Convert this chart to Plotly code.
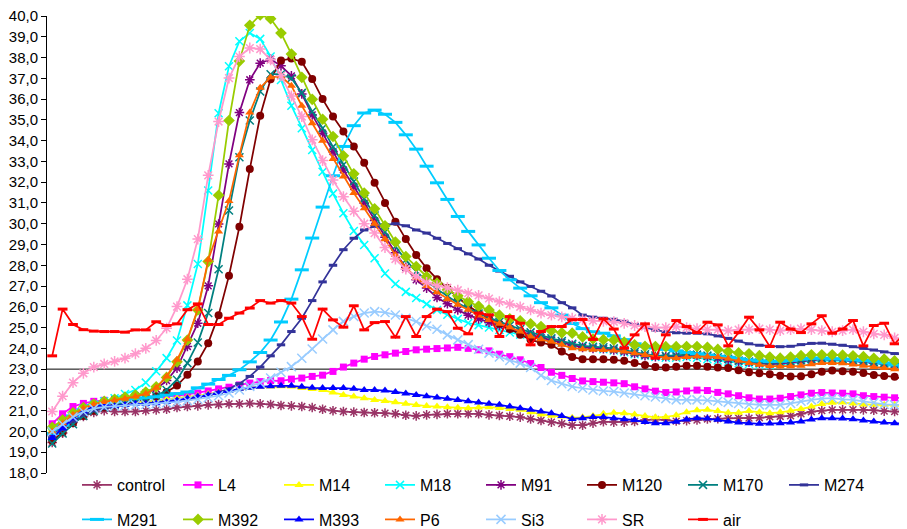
import plotly.graph_objects as go

# ---------------- data ----------------
samples = list(range(1, 84))

control = [19.47, 19.92, 20.43, 20.72, 20.91, 21.00, 20.96, 20.96, 20.96, 21.00,
           21.04, 21.07, 21.15, 21.20, 21.23, 21.28, 21.30, 21.33, 21.33, 21.35,
           21.33, 21.30, 21.25, 21.23, 21.20, 21.15, 21.07, 21.00, 20.96, 20.93,
           20.91, 20.90, 20.88, 20.85, 20.78, 20.75, 20.80, 20.82, 20.85, 20.85,
           20.85, 20.85, 20.80, 20.77, 20.73, 20.69, 20.60, 20.53, 20.45, 20.38,
           20.30, 20.30, 20.40, 20.47, 20.45, 20.45, 20.48, 20.55, 20.58, 20.55,
           20.50, 20.52, 20.55, 20.60, 20.62, 20.63, 20.64, 20.64, 20.66, 20.70,
           20.72, 20.75, 20.85, 20.95, 21.00, 21.04, 21.04, 21.05, 21.04, 21.02,
           20.98, 20.96, 20.95]

L4 = [20.37, 20.85, 21.20, 21.35, 21.45, 21.50, 21.55, 21.55, 21.60, 21.62,
      21.65, 21.68, 21.72, 21.78, 21.85, 21.95, 22.05, 22.13, 22.24, 22.33,
      22.40, 22.45, 22.44, 22.52, 22.57, 22.65, 22.71, 22.89, 23.10, 23.29,
      23.48, 23.61, 23.69, 23.77, 23.85, 23.93, 23.96, 23.99, 24.02, 24.05,
      24.00, 23.93, 23.88, 23.72, 23.60, 23.45, 23.27, 23.08, 22.85, 22.70,
      22.55, 22.43, 22.40, 22.37, 22.34, 22.30, 22.15, 22.05, 21.94, 21.87,
      21.90, 21.95, 21.99, 21.97, 21.88, 21.81, 21.72, 21.62, 21.56, 21.56,
      21.60, 21.68, 21.76, 21.84, 21.87, 21.85, 21.84, 21.81, 21.72, 21.68,
      21.65, 21.62, 21.60]

M14 = [20.10, 20.50, 20.85, 21.10, 21.25, 21.33, 21.38, 21.40, 21.42, 21.45,
       21.50, 21.55, 21.60, 21.65, 21.72, 21.80, 21.88, 21.95, 22.05, 22.10,
       22.15, 22.16, 22.18, 22.16, 22.09, 22.04, 22.00, 21.87, 21.76, 21.68,
       21.60, 21.52, 21.47, 21.40, 21.33, 21.27, 21.22, 21.20, 21.17, 21.14,
       21.12, 21.15, 21.17, 21.13, 21.08, 21.04, 20.93, 20.82, 20.76, 20.72,
       20.66, 20.68, 20.75, 20.85, 20.90, 20.88, 20.82, 20.75, 20.68, 20.70,
       20.78, 20.93, 21.02, 21.04, 20.98, 20.90, 20.90, 20.98, 20.93, 20.88,
       20.92, 21.00, 21.08, 21.20, 21.32, 21.38, 21.39, 21.35, 21.30, 21.28,
       21.28, 21.28, 21.28]

M18 = [19.95, 20.35, 20.80, 21.10, 21.30, 21.45, 21.60, 21.80, 22.00, 22.35,
       22.90, 23.53, 24.38, 26.07, 28.06, 31.60, 35.32, 37.58, 38.78, 39.18,
       38.90, 38.05, 36.92, 35.68, 34.60, 33.55, 32.50, 31.45, 30.50, 29.65,
       28.98, 28.34, 27.60, 27.10, 26.72, 26.42, 26.13, 25.85, 25.62, 25.42,
       25.22, 25.12, 25.00, 24.88, 24.76, 24.66, 24.57, 24.48, 24.38, 24.28,
       24.18, 24.10, 24.02, 23.96, 23.90, 23.82, 23.72, 23.65, 23.58, 23.55,
       23.55, 23.58, 23.55, 23.48, 23.42, 23.35, 23.28, 23.25, 23.22, 23.20,
       23.22, 23.28, 23.35, 23.40, 23.42, 23.42, 23.40, 23.38, 23.32, 23.28,
       23.25, 23.22, 23.20]

M91 = [19.80, 20.30, 20.75, 21.05, 21.25, 21.38, 21.50, 21.60, 21.70, 21.85,
       22.05, 22.45, 23.05, 24.09, 25.21, 27.01, 29.99, 32.88, 35.35, 36.93,
       37.73, 37.92, 37.60, 37.12, 36.25, 35.24, 34.36, 33.47, 32.59, 31.79,
       30.99, 30.15, 29.35, 28.60, 27.90, 27.30, 26.90, 26.45, 26.15, 25.85,
       25.60, 25.42, 25.25, 25.10, 24.95, 24.82, 24.66, 24.52, 24.40, 24.28,
       24.15, 24.05, 24.00, 23.98, 23.92, 23.85, 23.75, 23.65, 23.60, 23.60,
       23.62, 23.66, 23.66, 23.60, 23.52, 23.45, 23.38, 23.33, 23.28, 23.25,
       23.27, 23.32, 23.40, 23.45, 23.48, 23.46, 23.44, 23.40, 23.35, 23.30,
       23.25, 23.22, 23.20]

M120 = [19.55, 19.95, 20.40, 20.75, 21.00, 21.15, 21.25, 21.35, 21.45, 21.55,
        21.70, 21.90, 22.21, 22.73, 23.37, 24.25, 25.60, 27.50, 29.85, 32.63,
        35.20, 36.96, 37.86, 37.95, 37.80, 36.97, 36.00, 35.16, 34.44, 33.72,
        32.93, 31.97, 31.00, 30.10, 29.26, 28.50, 27.86, 27.33, 26.90, 26.45,
        26.05, 25.72, 25.45, 25.18, 24.93, 24.65, 24.41, 24.28, 24.17, 23.85,
        23.58, 23.48, 23.48, 23.47, 23.45, 23.40, 23.30, 23.20, 23.10, 23.08,
        23.12, 23.16, 23.16, 23.12, 23.08, 23.05, 22.95, 22.85, 22.80, 22.75,
        22.68, 22.65, 22.66, 22.75, 22.88, 22.93, 22.90, 22.88, 22.82, 22.72,
        22.67, 22.63, 22.52]

M170 = [19.42, 19.90, 20.35, 20.75, 21.00, 21.15, 21.28, 21.38, 21.48, 21.58,
        21.70, 22.00, 22.49, 23.29, 24.28, 25.70, 27.81, 30.64, 33.20, 34.97,
        36.37, 37.20, 37.20, 37.00, 36.30, 35.40, 34.60, 33.70, 32.84, 32.03,
        31.20, 30.40, 29.60, 28.90, 28.25, 27.70, 27.25, 26.85, 26.50, 26.18,
        25.92, 25.68, 25.48, 25.28, 25.10, 24.93, 24.77, 24.62, 24.48, 24.35,
        24.22, 24.12, 24.08, 24.05, 24.00, 23.92, 23.82, 23.72, 23.66, 23.64,
        23.66, 23.70, 23.70, 23.65, 23.57, 23.50, 23.42, 23.37, 23.32, 23.30,
        23.32, 23.37, 23.45, 23.50, 23.52, 23.50, 23.48, 23.45, 23.40, 23.35,
        23.30, 23.27, 23.25]

M274 = [19.70, 20.10, 20.50, 20.80, 21.00, 21.10, 21.18, 21.25, 21.30, 21.35,
        21.40, 21.45, 21.50, 21.57, 21.65, 21.75, 21.88, 22.05, 22.30, 22.65,
        23.10, 23.64, 24.17, 24.81, 25.45, 26.30, 27.20, 28.00, 28.75, 29.30,
        29.70, 29.87, 29.95, 30.00, 29.90, 29.70, 29.55, 29.30, 29.05, 28.80,
        28.55, 28.30, 28.00, 27.72, 27.47, 27.20, 26.98, 26.75, 26.52, 26.20,
        25.95, 25.60, 25.50, 25.45, 25.40, 25.30, 25.15, 25.00, 24.88, 24.80,
        24.75, 24.73, 24.73, 24.70, 24.60, 24.48, 24.35, 24.22, 24.15, 24.10,
        24.08, 24.10, 24.18, 24.24, 24.25, 24.20, 24.15, 24.08, 24.00, 23.92,
        23.83, 23.75, 23.68]

M291 = [19.90, 20.30, 20.75, 21.05, 21.25, 21.38, 21.45, 21.52, 21.58, 21.62,
        21.67, 21.75, 21.82, 21.90, 22.10, 22.28, 22.50, 22.70, 22.97, 23.35,
        23.80, 24.40, 25.27, 26.37, 27.78, 29.31, 30.80, 32.31, 33.72, 34.72,
        35.33, 35.47, 35.27, 34.88, 34.28, 33.59, 32.77, 31.97, 31.17, 30.35,
        29.63, 28.98, 28.34, 27.75, 27.30, 26.90, 26.53, 26.20, 25.95, 25.60,
        25.20, 24.95, 24.80, 24.73, 24.60, 24.42, 24.22, 24.10, 24.02, 23.95,
        23.88, 23.80, 23.74, 23.68, 23.62, 23.57, 23.50, 23.44, 23.40, 23.37,
        23.38, 23.42, 23.48, 23.52, 23.53, 23.50, 23.48, 23.45, 23.42, 23.38,
        23.30, 23.20, 23.13]

M392 = [20.20, 20.55, 20.90, 21.15, 21.32, 21.45, 21.55, 21.65, 21.75, 21.90,
        22.15, 22.60, 23.35, 24.40, 25.85, 28.18, 31.37, 34.97, 37.83, 39.55,
        40.05, 39.87, 39.18, 38.17, 37.05, 35.99, 35.03, 34.20, 33.27, 32.40,
        31.48, 30.72, 29.90, 29.12, 28.42, 27.94, 27.46, 27.14, 26.82, 26.53,
        26.25, 26.03, 25.85, 25.60, 25.42, 25.33, 25.18, 25.05, 24.85, 24.75,
        24.73, 24.55, 24.45, 24.42, 24.40, 24.30, 24.17, 24.10, 24.09, 24.08,
        24.08, 24.09, 24.09, 24.05, 23.95, 23.85, 23.78, 23.74, 23.65, 23.58,
        23.53, 23.58, 23.65, 23.69, 23.69, 23.69, 23.67, 23.64, 23.60, 23.52,
        23.48, 23.40, 23.30]

M393 = [19.68, 20.16, 20.64, 20.96, 21.20, 21.28, 21.23, 21.28, 21.33, 21.33,
        21.36, 21.42, 21.50, 21.60, 21.68, 21.75, 21.85, 21.95, 22.05, 22.10,
        22.15, 22.18, 22.20, 22.20, 22.15, 22.10, 22.09, 22.09, 22.09, 22.05,
        22.00, 22.00, 21.97, 21.90, 21.83, 21.76, 21.70, 21.64, 21.58, 21.52,
        21.45, 21.39, 21.33, 21.28, 21.20, 21.12, 21.04, 20.96, 20.88, 20.75,
        20.60, 20.64, 20.69, 20.69, 20.64, 20.59, 20.55, 20.45, 20.40, 20.40,
        20.47, 20.58, 20.64, 20.62, 20.56, 20.48, 20.43, 20.40, 20.37, 20.38,
        20.40, 20.43, 20.48, 20.58, 20.64, 20.64, 20.62, 20.59, 20.53, 20.48,
        20.43, 20.40, 20.38]

P6 = [20.00, 20.40, 20.80, 21.10, 21.30, 21.42, 21.50, 21.58, 21.68, 21.82,
      22.10, 22.65, 23.45, 24.44, 25.89, 28.26, 29.63, 31.10, 33.30, 35.35,
      36.55, 37.05, 37.10, 36.64, 35.68, 34.84, 34.00, 33.12, 32.27, 31.48,
      30.75, 30.00, 29.25, 28.50, 27.90, 27.40, 27.00, 26.70, 26.36, 26.10,
      25.86, 25.58, 25.37, 25.18, 25.02, 24.81, 24.57, 24.44, 24.33, 24.17,
      24.01, 23.96, 23.93, 23.92, 23.90, 23.85, 23.77, 23.68, 23.61, 23.55,
      23.53, 23.58, 23.61, 23.60, 23.58, 23.50, 23.40, 23.30, 23.21, 23.15,
      23.13, 23.14, 23.16, 23.24, 23.29, 23.29, 23.28, 23.22, 23.16, 23.10,
      23.05, 23.00, 22.97]

Si3 = [20.00, 20.35, 20.70, 20.95, 21.10, 21.18, 21.22, 21.25, 21.28, 21.30,
       21.33, 21.38, 21.42, 21.48, 21.55, 21.62, 21.72, 21.85, 22.00, 22.17,
       22.33, 22.57, 22.85, 23.12, 23.52, 23.97, 24.45, 24.89, 25.30, 25.53,
       25.70, 25.77, 25.73, 25.61, 25.45, 25.29, 25.08, 24.92, 24.65, 24.41,
       24.18, 23.96, 23.77, 23.58, 23.42, 23.29, 23.08, 22.70, 22.45, 22.30,
       22.16, 22.08, 22.00, 21.95, 21.92, 21.85, 21.80, 21.72, 21.66, 21.58,
       21.52, 21.52, 21.52, 21.50, 21.45, 21.40, 21.35, 21.30, 21.28, 21.28,
       21.28, 21.35, 21.45, 21.52, 21.58, 21.60, 21.55, 21.52, 21.45, 21.38,
       21.30, 21.28, 21.28]

SR = [20.96, 21.70, 22.35, 22.80, 23.10, 23.25, 23.37, 23.53, 23.74, 24.00,
      24.38, 24.97, 26.01, 27.33, 29.26, 32.33, 34.92, 37.01, 38.05, 38.46,
      38.41, 37.89, 37.12, 36.15, 35.16, 34.04, 33.04, 32.10, 31.30, 30.60,
      30.00, 29.55, 28.85, 28.30, 27.81, 27.46, 27.17, 27.01, 26.92, 26.80,
      26.66, 26.55, 26.40, 26.25, 26.13, 26.00, 25.85, 25.70, 25.60, 25.52,
      25.45, 25.38, 25.33, 25.30, 25.28, 25.20, 25.10, 25.05, 25.00, 25.00,
      25.05, 25.00, 24.95, 24.90, 24.90, 24.85, 24.90, 24.90, 24.95, 24.90,
      24.85, 24.90, 24.95, 24.90, 24.85, 24.80, 24.85, 24.90, 24.80, 24.70,
      24.65, 24.50, 24.40]

air = [23.64, 25.89, 25.15, 24.90, 24.83, 24.81, 24.81, 24.78, 24.89, 24.89,
       25.28, 25.10, 25.18, 25.86, 26.14, 25.15, 25.15, 25.45, 25.70, 25.94,
       26.30, 26.18, 26.30, 26.18, 25.53, 24.44, 25.89, 25.37, 25.02, 26.05,
       24.89, 25.24, 25.29, 24.54, 25.53, 24.57, 25.53, 25.89, 25.77, 24.97,
       24.70, 25.70, 25.61, 24.57, 25.53, 25.21, 24.17, 24.81, 25.05, 25.05,
       25.38, 25.39, 24.43, 25.42, 24.93, 24.01, 24.65, 25.18, 23.53, 24.65,
       25.34, 25.05, 24.76, 25.26, 25.13, 24.12, 24.76, 25.50, 24.89, 24.09,
       25.26, 24.93, 24.76, 25.18, 25.57, 24.73, 24.93, 25.34, 24.12, 25.10,
       25.21, 24.22, 24.73]

y_ticks = [18, 19, 20, 21, 22, 23, 24, 25, 26, 27, 28, 29, 30,
           31, 32, 33, 34, 35, 36, 37, 38, 39, 40]
axis_cross = 23.0

# ---------------- styles ----------------
FONT = "Liberation Sans, Arial, sans-serif"
series = [
    # name, values, color, symbol, size, open, legend
    ("control", control, "#993366", "asterisk-open", 8, True, "legend"),
    ("L4", L4, "#FF00FF", "square", 7, False, "legend"),
    ("M14", M14, "#FFFF00", "triangle-up", 8, False, "legend"),
    ("M18", M18, "#00FFFF", "x-thin-open", 8, True, "legend"),
    ("M91", M91, "#800080", "asterisk-open", 8, True, "legend"),
    ("M120", M120, "#800000", "circle", 8, False, "legend"),
    ("M170", M170, "#008080", "x-thin-open", 8, True, "legend"),
    ("M274", M274, "#333399", "line-ew-open", 6, True, "legend"),
    ("M291", M291, "#00CCFF", "line-ew-open", 10, True, "legend2"),
    ("M392", M392, "#99CC00", "diamond", 9, False, "legend2"),
    ("M393", M393, "#0000FF", "triangle-up", 8, False, "legend2"),
    ("P6", P6, "#FF6600", "triangle-up", 8, False, "legend2"),
    ("Si3", Si3, "#99CCFF", "x-thin-open", 9, True, "legend2"),
    ("SR", SR, "#FF99CC", "asterisk-open", 9, True, "legend2"),
    ("air", air, "#FF0000", "line-ew-open", 7, True, "legend2"),
]

fig = go.Figure()
for name, vals, col, sym, sz, is_open, lg in series:
    assert len(vals) == len(samples), name
    lw = 3 if sym.startswith("line-ew") else (1.5 if is_open else 0)
    fig.add_trace(go.Scatter(
        x=samples, y=vals, name=name, mode="lines+markers",
        line=dict(color=col, width=1.75),
        marker=dict(symbol=sym, size=sz, color=col,
                    line=dict(color=col, width=lw)),
        legend=lg,
    ))

fig.add_shape(type="line", xref="paper", x0=0, x1=1, yref="y",
              y0=axis_cross, y1=axis_cross,
              line=dict(color="black", width=1), layer="below")

# page body adds an 8px offset; the figure is sized so the plot area lands
# at x 47..907, y 16..473 of the window
PLOT_W, PLOT_H = 860, 457
legend_common = dict(
    orientation="h", xanchor="left", x=30 / PLOT_W, yanchor="middle",
    entrywidth=56, entrywidthmode="pixels", itemwidth=30,
    font=dict(family=FONT, size=16, color="black"),
    bgcolor="rgba(0,0,0,0)", borderwidth=0, traceorder="normal",
)

fig.update_layout(
    width=899, height=521,
    margin=dict(l=39, r=0, t=8, b=56, pad=0, autoexpand=False),
    paper_bgcolor="white", plot_bgcolor="white",
    separators=",.",
    showlegend=True,
    legend=dict(legend_common, y=-12 / PLOT_H),
    legend2=dict(legend_common, y=-46.5 / PLOT_H),
    xaxis=dict(range=[0.5, 0.5 + PLOT_W / 10.4],
               showticklabels=False, ticks="", showline=False,
               showgrid=False, zeroline=False),
    yaxis=dict(range=[18, 40], tickvals=y_ticks, tickformat=".1f",
               ticks="outside", ticklen=5, tickwidth=1, tickcolor="black",
               showline=True, linecolor="black", linewidth=1,
               showgrid=False, zeroline=False, ticklabeloverflow="allow",
               tickfont=dict(family=FONT, size=15, color="black")),
    font=dict(family=FONT, color="black"),
)

fig.write_html("out.html")
